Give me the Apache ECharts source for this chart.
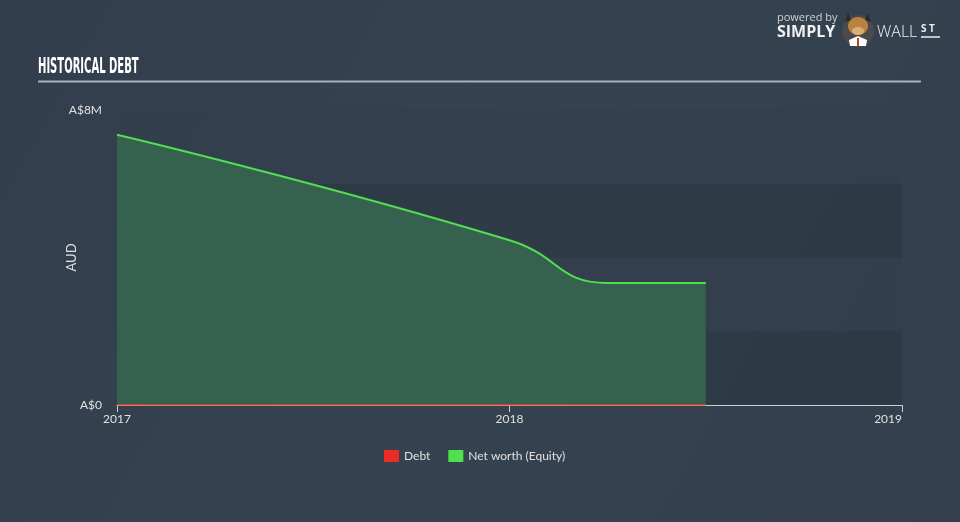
<!DOCTYPE html>
<html>
<head>
<meta charset="utf-8">
<script src="https://cdn.jsdelivr.net/npm/echarts@6/dist/echarts.min.js"></script>
<style>
html,body{margin:0;padding:0;background:#35414f;}
#chart{width:960px;height:522px;}
</style>
</head>
<body>
<div id="chart"></div>
<script>
// Dates as decimal years
var dates = [2017.0, 2018.0, 2018.25, 2018.5];
var netWorth = [7330000, 4470000, 3310000, 3310000];
var debt = [0, 0, 0, 0];
var xTicks = [2017, 2018, 2019];
var yLabels = {0: 'A$0', 8000000: 'A$8M'};
var seriesNames = ['Debt', 'Net worth (Equity)'];

var chart = echarts.init(document.getElementById('chart'), null, {renderer: 'canvas'});
var font = 'Lato, "Open Sans", sans-serif';
function pairs(xs, ys) { return xs.map(function (x, i) { return [x, ys[i]]; }); }

chart.setOption({
  backgroundColor: {
    type: 'linear', x: 0, y: 0, x2: 1, y2: 1,
    colorStops: [{offset: 0, color: '#323e4d'}, {offset: 0.5, color: '#35424f'}, {offset: 1, color: '#333f4d'}]
  },
  animation: false,
  textStyle: {fontFamily: font},
  grid: {left: 117, right: 58, top: 110, bottom: 117},
  legend: {
    bottom: 55, left: 379,
    itemWidth: 15, itemHeight: 12, itemGap: 18,
    icon: 'rect',
    data: seriesNames,
    textStyle: {color: '#e0e0e0', fontSize: 12, fontFamily: font}
  },
  xAxis: {
    type: 'value', min: xTicks[0], max: xTicks[xTicks.length - 1], interval: 1,
    axisLine: {show: true, lineStyle: {color: '#c9ced6', width: 1}},
    axisTick: {show: true, length: 7, lineStyle: {color: '#c9ced6'}},
    splitLine: {show: false},
    axisLabel: {
      color: '#e0e0e0', fontSize: 12, margin: 8,
      alignMaxLabel: 'right',
      formatter: function (v) { return String(v); }
    }
  },
  yAxis: {
    type: 'value', min: 0, max: 8000000, interval: 2000000,
    name: 'AUD', nameLocation: 'middle', nameGap: 39, nameRotate: 90, nameMoveOverlap: false,
    nameTextStyle: {color: '#e0e0e0', fontSize: 13},
    axisLine: {show: false}, axisTick: {show: false},
    splitLine: {show: false},
    splitArea: {show: true, areaStyle: {color: ['rgba(0,0,0,0.1)', 'rgba(0,0,0,0.015)']}},
    axisLabel: {
      color: '#e0e0e0', fontSize: 12, margin: 15,
      formatter: function (v) { return yLabels[v] !== undefined ? yLabels[v] : ''; }
    }
  },
  series: [
    {
      name: seriesNames[1], type: 'line', smooth: 0.5,
      symbol: 'none', data: pairs(dates, netWorth),
      lineStyle: {color: '#4fe04f', width: 2},
      itemStyle: {color: '#4fe04f'},
      areaStyle: {color: '#37614f', opacity: 1},
      z: 2
    },
    {
      name: seriesNames[0], type: 'line', symbol: 'none', data: pairs(dates, debt),
      lineStyle: {color: '#ee3b2c', width: 1.5},
      itemStyle: {color: '#ee2a24'},
      z: 3
    }
  ],
  graphic: [
    {type: 'text', x: 38, y: 57, scaleX: 0.53, originX: 0, style: {text: 'HISTORICAL DEBT', x: 0, y: 0, fill: '#ffffff', font: 'bold 21px "DejaVu Sans Condensed", "Liberation Sans Narrow", sans-serif'}},
    {type: 'line', shape: {x1: 38, y1: 81.5, x2: 921, y2: 81.5}, style: {stroke: '#a9b0b9', lineWidth: 2}},
    {type: 'text', left: 777, top: 12, style: {text: 'powered by', fill: '#d0d0d0', font: '11px "Open Sans", sans-serif'}},
    {type: 'text', left: 777, top: 24, style: {text: 'SIMPLY', fill: '#f0f0f0', font: 'bold 16px "Open Sans", sans-serif'}},
    {type: 'circle', shape: {cx: 858, cy: 31, r: 16}, style: {fill: '#4a4a4a'}},
    {type: 'polygon', shape: {points: [[848, 13], [845, 22], [851, 20]]}, style: {fill: '#2a2a2a'}},
    {type: 'polygon', shape: {points: [[868, 13], [871, 22], [865, 20]]}, style: {fill: '#2a2a2a'}},
    {type: 'ellipse', shape: {cx: 858, cy: 26, rx: 10, ry: 9}, style: {fill: '#b9833f'}},
    {type: 'ellipse', shape: {cx: 858, cy: 31, rx: 6, ry: 4}, style: {fill: '#d9b070'}},
    {type: 'polygon', shape: {points: [[849, 40], [858, 36], [867, 40], [866, 46], [850, 46]]}, style: {fill: '#ffffff'}},
    {type: 'rect', shape: {x: 857, y: 38, width: 2, height: 8}, style: {fill: '#d9341e'}},
    {type: 'text', left: 877, top: 24, style: {text: 'WALL', fill: '#f0f0f0', font: '300 16px "Open Sans", sans-serif'}},
    {type: 'text', left: 921, top: 24, style: {text: 'S T', fill: '#f0f0f0', font: 'bold 10px "Open Sans", sans-serif'}},
    {type: 'line', shape: {x1: 921, y1: 37, x2: 940, y2: 37}, style: {stroke: '#f0f0f0', lineWidth: 1.5}}
  ]
});
</script>
</body>
</html>
